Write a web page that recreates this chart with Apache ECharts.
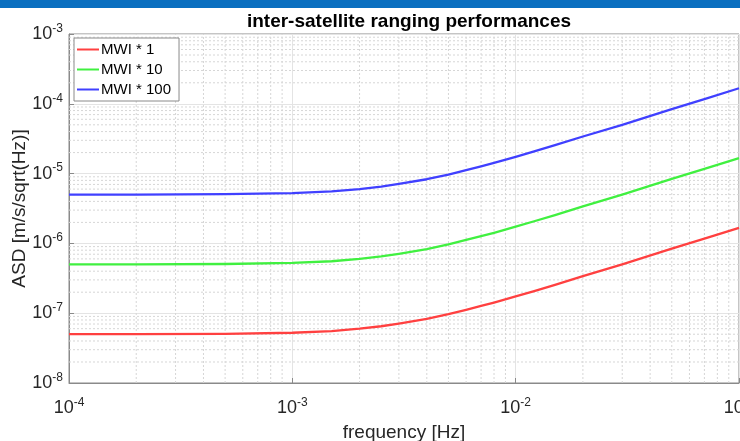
<!DOCTYPE html>
<html><head><meta charset="utf-8">
<script src="https://cdn.jsdelivr.net/npm/echarts@6/dist/echarts.min.js"></script>
<style>html,body{margin:0;padding:0;background:#fff}#c{width:740px;height:441px}</style>
</head><body><div id="c"></div>
<script>
const freq   = [1e-4, 2e-4, 5e-4, 1e-3, 1.5e-3, 2e-3, 2.5e-3, 3e-3, 4e-3, 5e-3, 6e-3, 7e-3, 8e-3, 1e-2, 1.2e-2, 1.5e-2, 2e-2, 3e-2, 5e-2, 7e-2, 1e-1];
const mwi1   = [5.0e-8, 5.0e-8, 5.07e-8, 5.25e-8, 5.55e-8, 6.0e-8, 6.5e-8, 7.1e-8, 8.3e-8, 9.7e-8, 1.12e-7, 1.27e-7, 1.42e-7, 1.74e-7, 2.06e-7, 2.55e-7, 3.4e-7, 5.0e-7, 8.4e-7, 1.17e-6, 1.67e-6];
const mwi10  = [5.0e-7, 5.0e-7, 5.07e-7, 5.25e-7, 5.55e-7, 6.0e-7, 6.5e-7, 7.1e-7, 8.3e-7, 9.7e-7, 1.12e-6, 1.27e-6, 1.42e-6, 1.74e-6, 2.06e-6, 2.55e-6, 3.4e-6, 5.0e-6, 8.4e-6, 1.17e-5, 1.67e-5];
const mwi100 = [5.0e-6, 5.0e-6, 5.07e-6, 5.25e-6, 5.55e-6, 6.0e-6, 6.5e-6, 7.1e-6, 8.3e-6, 9.7e-6, 1.12e-5, 1.27e-5, 1.42e-5, 1.74e-5, 2.06e-5, 2.55e-5, 3.4e-5, 5.0e-5, 8.4e-5, 1.17e-4, 1.67e-4];
const seriesNames = ['MWI * 1', 'MWI * 10', 'MWI * 100'];
const xMinorGrid = [2e-4,3e-4,4e-4,5e-4,6e-4,7e-4,8e-4,9e-4,2e-3,3e-3,4e-3,5e-3,6e-3,7e-3,8e-3,9e-3,2e-2,3e-2,4e-2,5e-2,6e-2,7e-2,8e-2,9e-2];
const yMinorGrid = [2e-8,3e-8,4e-8,5e-8,6e-8,7e-8,8e-8,9e-8,2e-7,3e-7,4e-7,5e-7,6e-7,7e-7,8e-7,9e-7,2e-6,3e-6,4e-6,5e-6,6e-6,7e-6,8e-6,9e-6,2e-5,3e-5,4e-5,5e-5,6e-5,7e-5,8e-5,9e-5,2e-4,3e-4,4e-4,5e-4,6e-4,7e-4,8e-4,9e-4];
const X_RANGE = [1e-4, 1e-1], Y_RANGE = [1e-8, 1e-3];

const FONT = 'Liberation Sans, Arial, sans-serif';
const expFmt = v => '{b|10}{s|' + Math.round(Math.log10(v)) + '}';
const rich = {
  b: {fontSize: 18, fontFamily: FONT, color: '#262626'},
  s: {fontSize: 12, fontFamily: FONT, color: '#262626', verticalAlign: 'top', padding: [0,0,11,0]}
};
const pair = (xs, ys) => xs.map((x, i) => [x, ys[i]]);
const minorStyle = {color: '#d6d6d6', type: [2, 2], width: 1};

const gridSeries = [];
xMinorGrid.forEach(v => gridSeries.push({type: 'line', data: [[v, Y_RANGE[0]], [v, Y_RANGE[1]]], showSymbol: false, silent: true, z: 1, lineStyle: minorStyle}));
yMinorGrid.forEach(v => gridSeries.push({type: 'line', data: [[X_RANGE[0], v], [X_RANGE[1], v]], showSymbol: false, silent: true, z: 1, lineStyle: minorStyle}));

const curve = (name, data, color) => ({type: 'line', name: name, data: data, showSymbol: false,
  smooth: false, z: 5, lineStyle: {color: color, width: 2.3, join: 'round'}, itemStyle: {color: color}});

const chart = echarts.init(document.getElementById('c'), null, {renderer: 'canvas'});
chart.setOption({
  animation: false,
  backgroundColor: '#fff',
  title: {text: 'inter-satellite ranging performances', left: 404, textAlign: 'center', top: 7,
    textStyle: {fontSize: 19, fontWeight: 'bold', fontFamily: FONT, color: '#000'}},
  graphic: [{type: 'rect', shape: {x: 0, y: 0, width: 740, height: 8}, style: {fill: '#0a6fc0'}}],
  grid: {left: 69, right: 1, top: 34, bottom: 58, show: true, borderColor: '#8a8a8a', borderWidth: 1,
    backgroundColor: '#fff', containLabel: false, outerBoundsMode: 'none'},
  legend: {
    orient: 'vertical', left: 74, top: 38, data: seriesNames,
    backgroundColor: '#fff', borderColor: '#8a8a8a', borderWidth: 1, padding: [4, 8, 4, 3],
    itemWidth: 22, itemHeight: 2, itemGap: 5, icon: 'rect',
    textStyle: {fontSize: 15, fontFamily: FONT, color: '#000', padding: [0,0,0,-3]}
  },
  xAxis: {
    type: 'log', logBase: 10, min: X_RANGE[0], max: X_RANGE[1],
    name: 'frequency [Hz]', nameLocation: 'middle', nameGap: 40, nameMoveOverlap: false,
    nameTextStyle: {fontSize: 19, fontFamily: FONT, color: '#262626'},
    axisLine: {show: true, lineStyle: {color: '#8a8a8a'}},
    axisTick: {show: true, inside: true, length: 5, lineStyle: {color: '#8a8a8a'}},
    axisLabel: {formatter: expFmt, rich: rich, margin: 14},
    splitLine: {show: true, lineStyle: {color: '#e4e4e4', width: 1}}
  },
  yAxis: {
    type: 'log', logBase: 10, min: Y_RANGE[0], max: Y_RANGE[1],
    name: 'ASD [m/s/sqrt(Hz)]', nameLocation: 'middle', nameGap: 40, nameMoveOverlap: false,
    nameTextStyle: {fontSize: 19, fontFamily: FONT, color: '#262626'},
    axisLine: {show: true, lineStyle: {color: '#8a8a8a'}},
    axisTick: {show: true, inside: true, length: 5, lineStyle: {color: '#8a8a8a'}},
    axisLabel: {formatter: expFmt, rich: rich, margin: 6},
    splitLine: {show: true, lineStyle: {color: '#e4e4e4', width: 1}}
  },
  series: gridSeries.concat([
    curve(seriesNames[0], pair(freq, mwi1), '#ff4040'),
    curve(seriesNames[1], pair(freq, mwi10), '#40f040'),
    curve(seriesNames[2], pair(freq, mwi100), '#4040ff')
  ])
});
</script></body></html>
